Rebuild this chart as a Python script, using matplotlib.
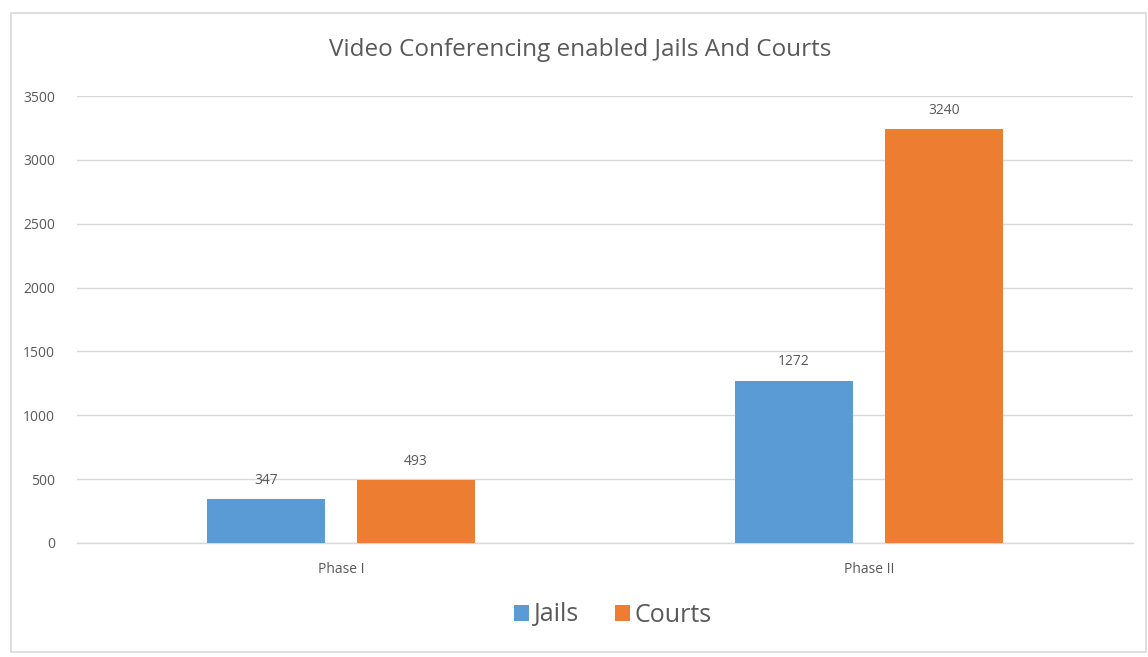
import matplotlib.pyplot as plt
from matplotlib.patches import Rectangle
import numpy as np

categories = ["Phase I", "Phase II"]
jails = [347, 1272]
courts = [493, 3240]
series_names = ["Jails", "Courts"]
title = "Video Conferencing enabled Jails And Courts"

blue = "#5B9BD5"
orange = "#ED7D31"
txt = "#595959"

plt.rcParams['font.family'] = ['Open Sans', 'DejaVu Sans']

fig = plt.figure(figsize=(11.48, 6.57), dpi=100)
fig.patches.append(Rectangle((11/1148, 1-652/657), 1135/1148, 639/657,
                             transform=fig.transFigure, fill=False,
                             edgecolor="#D9D9D9", linewidth=1.2))
ax = fig.add_axes([77/1148, 1-543/657, 1056/1148, 447/657])

x = np.arange(len(categories))
w = 0.2235
off = 0.142
b1 = ax.bar(x - off, jails, w, color=blue, label=series_names[0], zorder=3)
b2 = ax.bar(x + off, courts, w, color=orange, label=series_names[1], zorder=3)
for bars in (b1, b2):
    ax.bar_label(bars, padding=8, fontsize=10, color=txt)

ax.set_xlim(-0.5, 1.5)
ax.set_ylim(0, 3500)
ax.set_yticks(np.arange(0, 3501, 500))
ax.set_xticks(x)
ax.set_xticklabels(categories)
ax.grid(axis='y', color="#D9D9D9", linewidth=1, zorder=0)
ax.axhline(0, color="#D9D9D9", linewidth=1, zorder=1, clip_on=False)
ax.tick_params(length=0, labelsize=10, labelcolor=txt)
ax.tick_params(axis='y', pad=16)
ax.tick_params(axis='x', pad=14)
for s in ax.spines.values():
    s.set_visible(False)

fig.text(580/1148, 1-50/657, title, ha='center', va='center', fontsize=17.5, color=txt)
leg = fig.legend(handles=[b1, b2], loc='center', bbox_to_anchor=(613/1148, 1-615/657),
                 ncol=2, frameon=False, fontsize=18, handlelength=0.6, handleheight=0.6,
                 handletextpad=0.2, columnspacing=1.4, labelcolor=txt)

fig.savefig("out.png", dpi=100)
